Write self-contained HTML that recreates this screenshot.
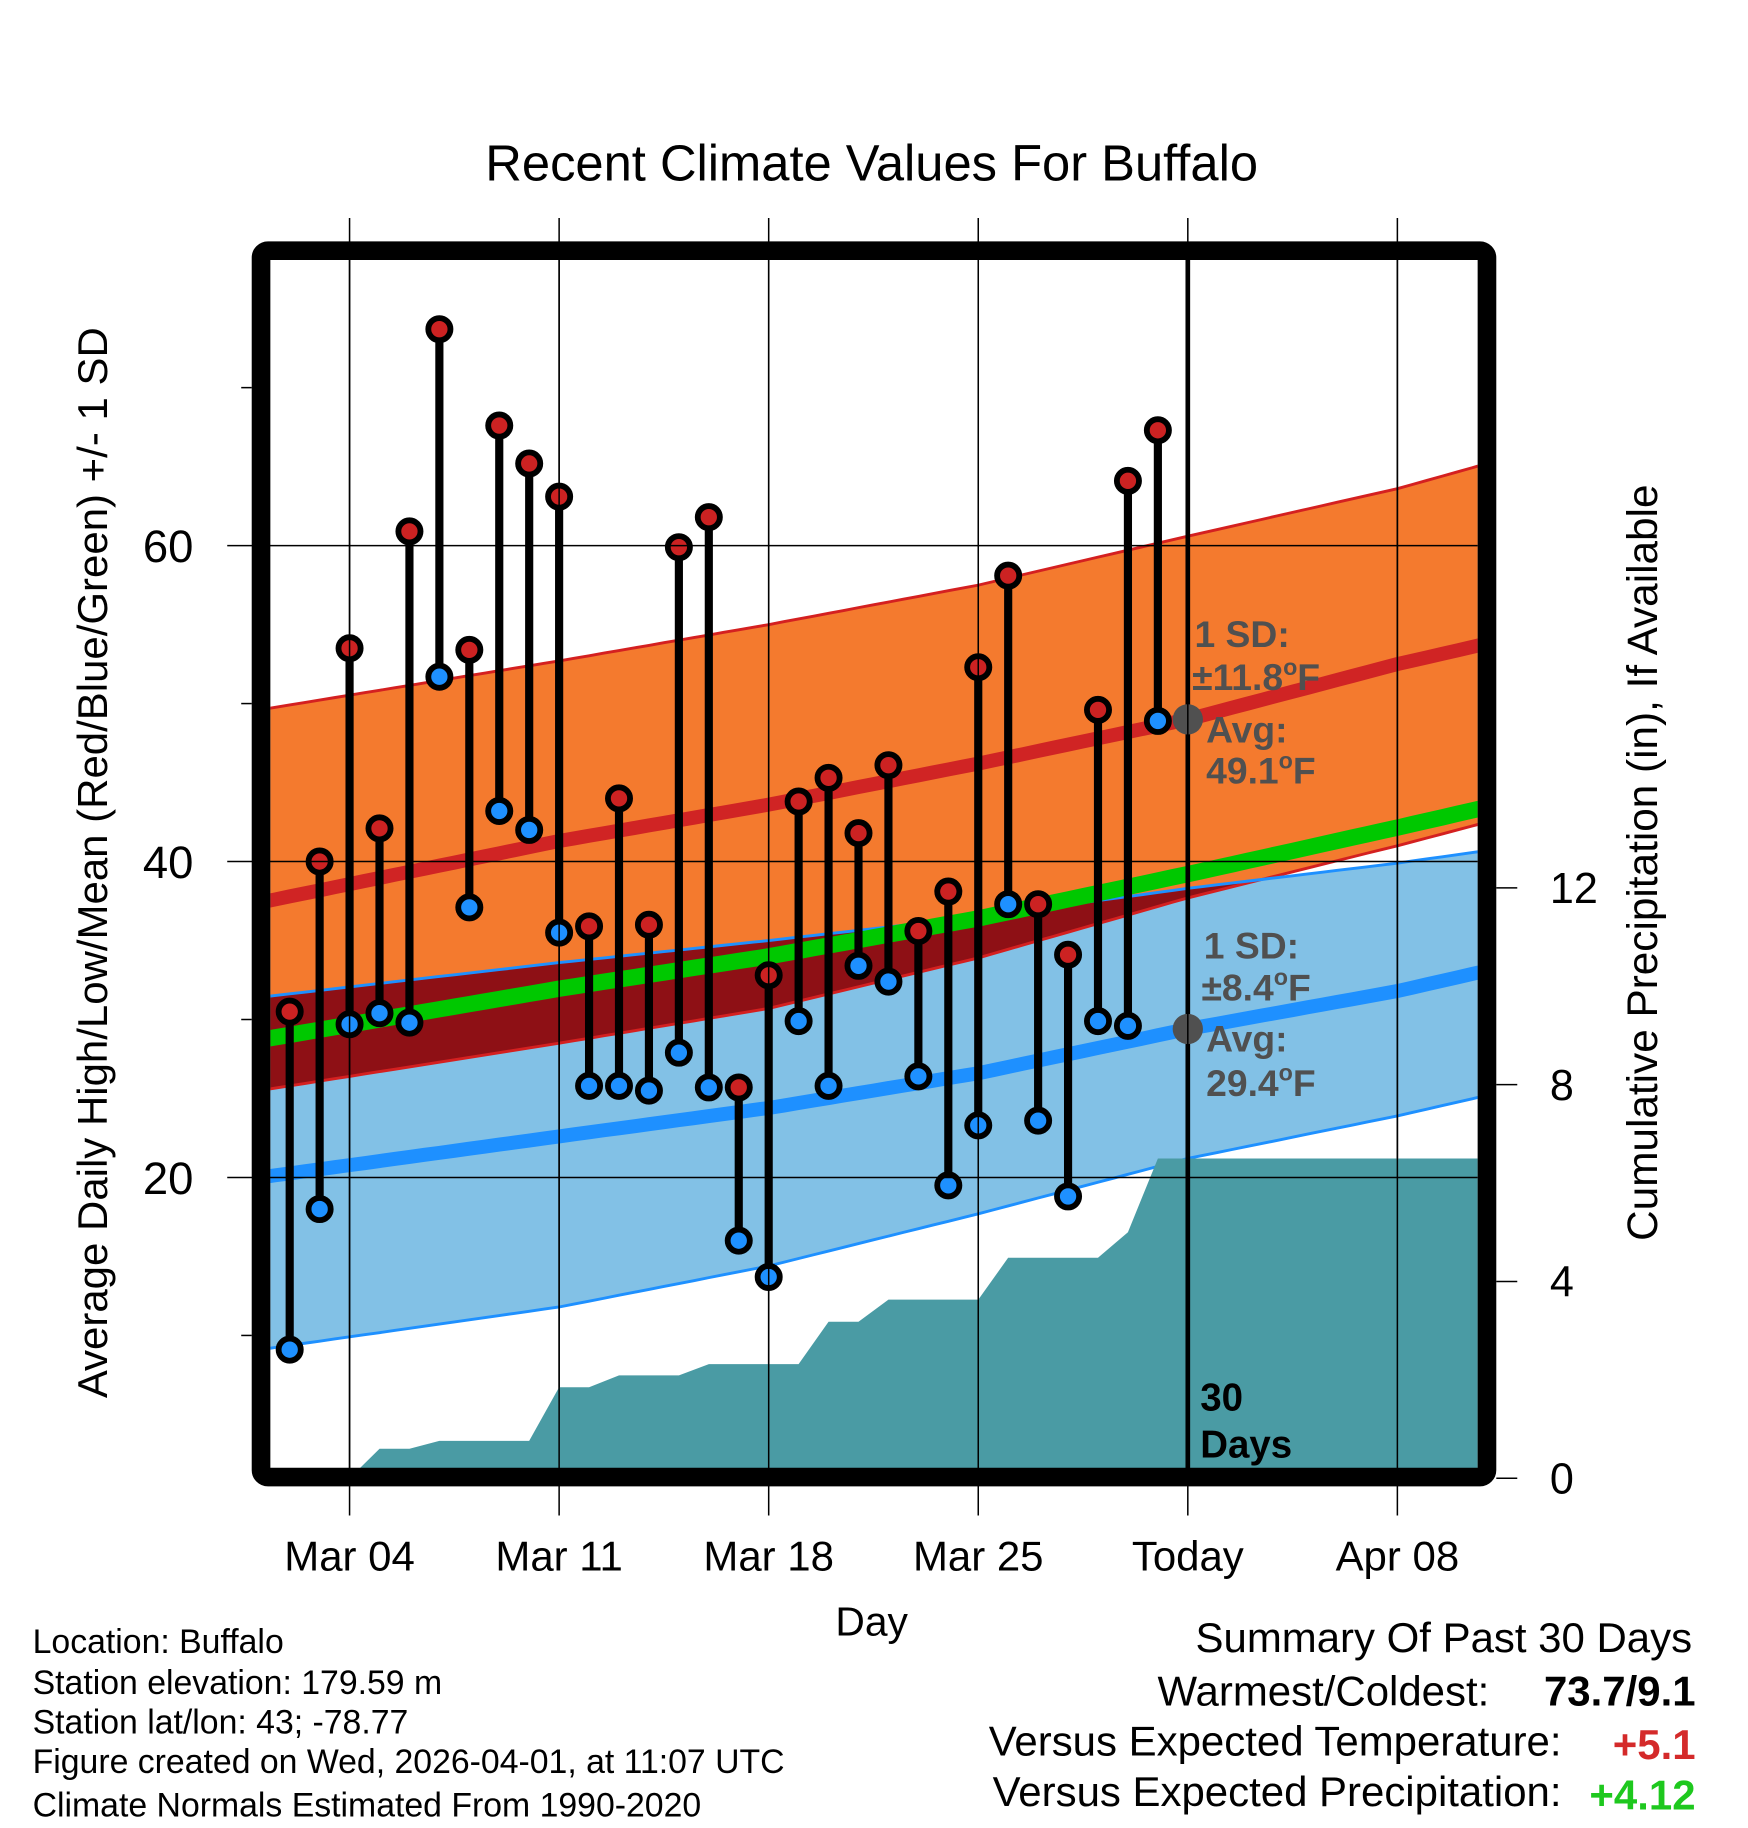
<!DOCTYPE html>
<html><head><meta charset="utf-8"><style>
html,body{margin:0;padding:0;background:#fff;}
svg{display:block;font-family:"Liberation Sans",Arial,sans-serif;}
</style></head><body>
<svg id="chart" width="1748" height="1828" viewBox="0 0 1500 1568" preserveAspectRatio="none" xmlns="http://www.w3.org/2000/svg">
<defs><clipPath id="plotclip"><rect x="232" y="223" width="1036" height="1037"/></clipPath></defs>
<text x="748" y="155" font-size="43.5" text-anchor="middle">Recent Climate Values For Buffalo</text>
<g id="plot" clip-path="url(#plotclip)"></g>
<g id="axes"></g>
<g id="frame-g"><rect x="224" y="215" width="1052" height="1052" rx="6" fill="none" stroke="#000" stroke-width="16"/></g>
<text transform="translate(92,740) rotate(-90)" font-size="36" text-anchor="middle">Average Daily High/Low/Mean (Red/Blue/Green) +/- 1 SD</text>
<text transform="translate(1422,740) rotate(-90)" font-size="36.3" text-anchor="middle">Cumulative Precipitation (in), If Available</text>
<text x="748" y="1403" font-size="35" text-anchor="middle">Day</text>
<g font-size="29">
<text x="28" y="1418">Location: Buffalo</text>
<text x="28" y="1453">Station elevation: 179.59 m</text>
<text x="28" y="1487">Station lat/lon: 43; -78.77</text>
<text x="28" y="1521">Figure created on Wed, 2026-04-01, at 11:07 UTC</text>
<text x="28" y="1558">Climate Normals Estimated From 1990-2020</text>
</g>
<g font-size="36">
<text x="1452" y="1417" text-anchor="end">Summary Of Past 30 Days</text>
<text x="1278" y="1463" text-anchor="end">Warmest/Coldest:</text>
<text x="1455" y="1463" text-anchor="end" font-weight="bold">73.7/9.1</text>
<text x="1340" y="1506" text-anchor="end">Versus Expected Temperature:</text>
<text x="1455" y="1509" text-anchor="end" font-weight="bold" fill="#D42A2A">+5.1</text>
<text x="1340" y="1549" text-anchor="end">Versus Expected Precipitation:</text>
<text x="1455" y="1552" text-anchor="end" font-weight="bold" fill="#1EC81E">+4.12</text>
</g>
</svg>
<script>
const days = [1,2,3,4,5,6,7,8,9,10,11,12,13,14,15,16,17,18,19,20,21,22,23,24,25,26,27,28,29,30];
const highs = [30.5,40.0,53.5,42.1,60.9,73.7,53.4,67.6,65.2,63.1,35.9,44.0,36.0,59.9,61.8,25.7,32.8,43.8,45.3,41.8,46.1,35.6,38.1,52.3,58.1,37.3,34.1,49.6,64.1,67.3];
const lows = [9.1,18.0,29.7,30.4,29.8,51.7,37.1,43.2,42.0,35.5,25.8,25.8,25.5,27.9,25.7,16.0,13.7,29.9,25.8,33.4,32.4,26.4,19.5,23.3,37.3,23.6,18.8,29.9,29.6,48.9];
const precip = [0,0,0,0.6,0.6,0.76,0.76,0.76,0.76,1.85,1.85,2.09,2.09,2.09,2.32,2.32,2.32,2.32,3.18,3.18,3.63,3.63,3.63,3.63,4.48,4.48,4.48,4.48,5.0,6.5];
const normDays = [0,10,17,24,31,38,41];
const normHigh = [37.4,41.3,43.6,46.2,49.0,52.5,53.8];
const highUpper = [49.6,52.7,55.0,57.5,60.6,63.6,65.2];
const highLower = [25.5,28.5,30.7,33.9,37.7,41.0,42.5];
const normLow = [20.0,22.6,24.4,26.6,29.4,31.8,33.1];
const lowUpper = [31.4,33.6,35.0,36.5,38.3,39.9,40.7];
const lowLower = [9.1,11.8,14.4,17.7,21.2,23.9,25.2];
const xTickDays = [3,10,17,24,31,38];
const xTickLabels = ["Mar 04","Mar 11","Mar 18","Mar 25","Today","Apr 08"];
const yTicks = [20,40,60];
const yMinor = [10,30,50,70];
const pTicks = [0,4,8,12];

const NS="http://www.w3.org/2000/svg";
const X = d => 222.9 + d*25.69;
const Y = t => 468 - (t-60)*13.55;
const P = p => 1268 - p*42.2;
function mk(tag, attrs, parent){const e=document.createElementNS(NS,tag);for(const k in attrs)e.setAttribute(k,attrs[k]);parent.appendChild(e);return e;}
function interp(arr,d){for(let i=0;i<normDays.length-1;i++){if(d<=normDays[i+1]){const f=(d-normDays[i])/(normDays[i+1]-normDays[i]);return arr[i]+f*(arr[i+1]-arr[i]);}}return arr[arr.length-1];}
const samples=[];for(let d=0;d<=41.001;d+=0.5)samples.push(d);
function line(arr){return samples.map((d,i)=>(i?'L':'M')+X(d).toFixed(1)+','+Y(arr(d)).toFixed(1)).join(' ');}
function band(up,lo){return samples.map((d,i)=>(i?'L':'M')+X(d).toFixed(1)+','+Y(up(d)).toFixed(1)).join(' ')+' '+samples.slice().reverse().map(d=>'L'+X(d).toFixed(1)+','+Y(lo(d)).toFixed(1)).join(' ')+'Z';}
const plot=document.getElementById('plot'), axes=document.getElementById('axes');
const f=a=>d=>interp(a,d);

let e=mk('path',{d:band(f(lowUpper),f(lowLower)),fill:'#82C1E6'},plot);


e=mk('path',{d:band(f(highUpper),f(highLower)),fill:'#F47A2E'},plot);


e=mk('path',{d:band(f(lowUpper),d=>Math.min(interp(highLower,d),interp(lowUpper,d))),fill:'#8E1015'},plot);


[[highUpper,'#D42020'],[highLower,'#D42020'],[lowUpper,'#1E90FF'],[lowLower,'#1E90FF']].forEach(([a,c])=>{
  const l=mk('path',{d:line(f(a)),fill:'none',stroke:c,'stroke-width':2.5},plot);
  
  
});
xTickDays.forEach((d,i)=>{
  const g=mk('line',{x1:X(d),x2:X(d),y1:187,y2:1300,stroke:'#000','stroke-width':1.3},axes);
  
  
  const pg=mk('line',{x1:X(d),x2:X(d),y1:223,y2:1260,stroke:'#000','stroke-width':1.3},plot);
  
  
  const t=mk('text',{x:X(d),y:1347,'font-size':36,'text-anchor':'middle'},axes);
  t.textContent=xTickLabels[i];
  
  
});
yTicks.forEach(v=>{
  const g=mk('line',{x1:195,x2:1268,y1:Y(v),y2:Y(v),stroke:'#000','stroke-width':1.3},axes);
  
  
  const t=mk('text',{x:166,y:Y(v)+14,'font-size':39,'text-anchor':'end'},axes);
  t.textContent=v;
  
  
});
yMinor.forEach(v=>{
  const g=mk('line',{x1:207,x2:216,y1:Y(v),y2:Y(v),stroke:'#000','stroke-width':1.3},axes);
  
  
});
pTicks.forEach(v=>{
  const g=mk('line',{x1:1284,x2:1302,y1:P(v),y2:P(v),stroke:'#000','stroke-width':1.3},axes);
  
  
  const t=mk('text',{x:1330,y:P(v)+13,'font-size':37},axes);
  t.textContent=v;
  
  
});
let pd='M'+X(days[0])+','+P(0);
days.forEach((d,i)=>{pd+=' L'+X(d).toFixed(1)+','+P(precip[i]).toFixed(1);});
pd+=' L1270,'+P(precip[precip.length-1]).toFixed(1)+' L1270,1262 L'+X(days[0])+',1262 Z';
e=mk('path',{d:pd,fill:'#4A9BA4'},plot);


e=mk('path',{d:line(f(normHigh)),fill:'none',stroke:'#D02424','stroke-width':12},plot);


e=mk('path',{d:line(f(normLow)),fill:'none',stroke:'#1E90FF','stroke-width':12},plot);


e=mk('path',{d:line(d=>(interp(normHigh,d)+interp(normLow,d))/2),fill:'none',stroke:'#00C800','stroke-width':14},plot);


e=mk('line',{x1:X(31),x2:X(31),y1:223,y2:1260,stroke:'#000','stroke-width':4},plot);


const ann=[[interp(normHigh,31),'normal-high-dot'],[interp(normLow,31),'normal-low-dot']];
ann.forEach(([v,n])=>{
  const c=mk('circle',{cx:X(31),cy:Y(v),r:13,fill:'#505050'},plot);
  
  
});
const texts=[[1025,555,'1 SD:',''],[1023,592,'±11.8','F'],[1035,637,'Avg:',''],[1035,672,'49.1','F'],[1033,822,'1 SD:',''],[1031,858,'±8.4','F'],[1035,902,'Avg:',''],[1035,940,'29.4','F']];
texts.forEach(([x,y,s,u])=>{
  const t=mk('text',{x:x,y:y,'font-size':32,'font-weight':'bold',fill:'#505050'},plot);
  
  
  t.appendChild(document.createTextNode(s));
  if(u){
    const o=mk('tspan',{'font-size':20,dy:-13},t); o.textContent='o';
    const ff=mk('tspan',{dy:13},t); ff.textContent=u;
  }
});
[[1030,1210,'30'],[1030,1250,'Days']].forEach(([x,y,s])=>{
  const t=mk('text',{x:x,y:y,'font-size':33,'font-weight':'bold'},plot);
  t.textContent=s;
  
  
});
days.forEach((d,i)=>{
  const s=mk('line',{x1:X(d),x2:X(d),y1:Y(highs[i]),y2:Y(lows[i]),stroke:'#000','stroke-width':7},plot);
  
  
});
days.forEach((d,i)=>{
  const h=mk('circle',{cx:X(d),cy:Y(highs[i]),r:9.5,fill:'#CC2222',stroke:'#000','stroke-width':5},plot);
  
  
  const l=mk('circle',{cx:X(d),cy:Y(lows[i]),r:9.5,fill:'#1E90FF',stroke:'#000','stroke-width':5},plot);
  
  
});
</script>
</body></html>
